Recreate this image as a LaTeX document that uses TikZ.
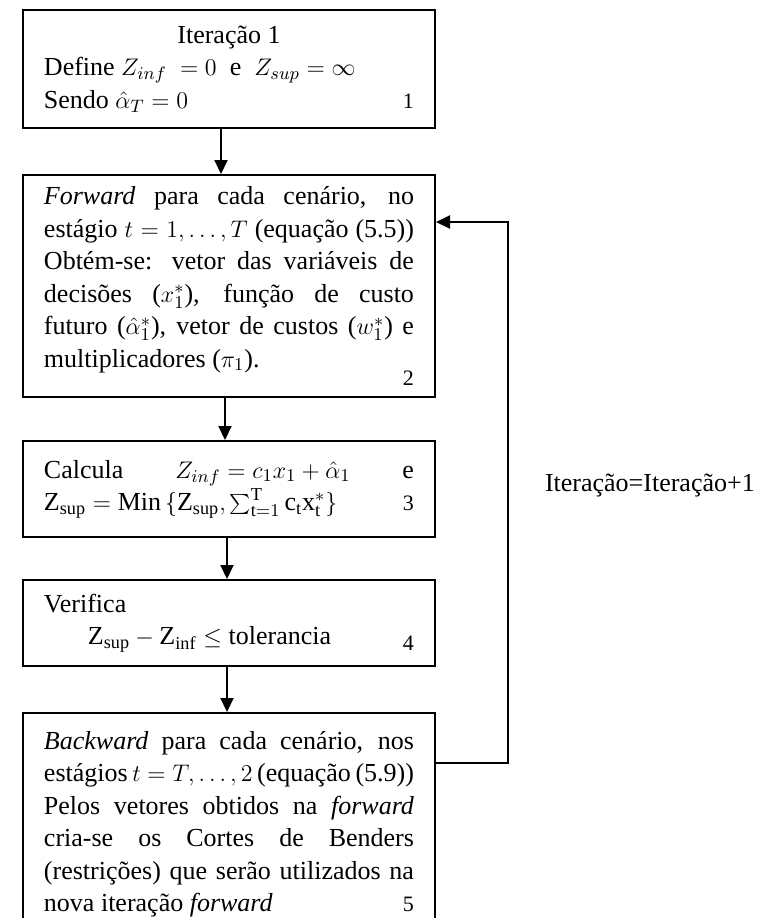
\documentclass[tikz,border=0pt]{standalone}
\usepackage{fontspec}
\setmainfont{Liberation Serif}
\usetikzlibrary{arrows.meta, positioning, calc}
\tolerance=10000
\hbadness=10000
\tikzset{
  stepbox/.style={
    rectangle, draw=black, line width=1pt,
    text width=185pt, align=justify, font=\fontsize{13pt}{16.25pt}\selectfont,
    inner xsep=10.5pt, inner ysep=4pt},
  looplabel/.style={font=\fontsize{13pt}{16.25pt}\selectfont, inner sep=0pt},
  arrow/.style={-{Triangle[length=7pt, width=6.5pt]}, line width=1pt,
                color=black}
}

\begin{document}
\begin{tikzpicture}[node distance=22pt]
  \useasboundingbox (0,0) rectangle (378.5pt,-459pt);

  %% Step 1: start
  \node[stepbox, anchor=north west, minimum height=59pt] (ini) at (11pt,-4.5pt)
    {\hfill Iteração 1\hfill\null\\
     Define $Z_{inf}\;= 0$~ e ~$Z_{sup} = \infty$\\
     Sendo $\hat{\alpha}_T = 0$\hfill{\fontsize{11pt}{13pt}\selectfont 1}\hspace*{2.5pt}};

  %% Step 2: forward pass
  \node[stepbox, below=22.5pt of ini, minimum height=111pt] (fwd)
    {\textit{Forward} para cada cenário, no\linebreak
     estágio $t = 1, \ldots, T$ (equação (5.5))\linebreak
     Obtém-se: vetor das variáveis de\linebreak
     decisões ($x_1^*$), função de custo\linebreak
     futuro ($\hat{\alpha}_1^*$), vetor de custos ($w_1^*$) e\linebreak
     multiplicadores ($\pi_1$).\hfill\raisebox{-9pt}{\fontsize{11pt}{13pt}\selectfont 2}\hspace*{4pt}};

  %% Step 3: bounds
  \node[stepbox, below=21pt of fwd, minimum height=48pt] (bounds)
    {Calcula\hfill$Z_{inf} = c_1x_1 + \hat{\alpha}_1$\hfill e\\
     $\mathrm{Z}_{\mathrm{sup}} = \mathrm{Min}\,\{\mathrm{Z}_{\mathrm{sup}},
      \sum_{\mathrm{t}=1}^{\mathrm{T}}\mathrm{c}_{\mathrm{t}}\mathrm{x}_{\mathrm{t}}^{*}\}$%
     \hfill{\fontsize{11pt}{13pt}\selectfont 3}\hspace*{6.5pt}};

  %% Step 4: stopping test
  \node[stepbox, below=20.5pt of bounds, minimum height=43pt] (check)
    {Verifica\\
     \hspace*{22pt}$\mathrm{Z}_{\mathrm{sup}} - \mathrm{Z}_{\mathrm{inf}} \leq \mathrm{tolerancia}$%
     \hfill\raisebox{-3pt}{\fontsize{11pt}{13pt}\selectfont 4}\hspace*{4pt}};

  %% Step 5: backward pass
  \node[stepbox, below=22.5pt of check, minimum height=111pt] (bwd)
    {\textit{Backward} para cada cenário, nos\linebreak
     estágios $t = T, \ldots, 2$ (equação (5.9))\linebreak
     Pelos vetores obtidos na \textit{forward}\linebreak
     cria-se os Cortes de Benders\linebreak
     (restrições) que serão utilizados na\linebreak
     nova iteração \textit{forward}\hfill{\fontsize{11pt}{13pt}\selectfont 5}\hspace*{4pt}};

  %% Arrows: main flow
  \draw[arrow] ([xshift=-4pt]ini.south) -- ([xshift=-4pt]fwd.north);
  \draw[arrow] ([xshift=-2pt]fwd.south) -- ([xshift=-2pt]bounds.north);
  \draw[arrow] ([xshift=-1pt]bounds.south) -- ([xshift=-1pt]check.north);
  \draw[arrow] ([xshift=-1pt]check.south) -- ([xshift=-1pt]bwd.north);

  %% Arrow: back to the forward pass
  \draw[arrow] ([yshift=-25.5pt]bwd.north east) -- ++(36pt,0)
    |- node[looplabel, pos=0.25, right=18pt, yshift=3.5pt] (lbl) {Iteração=Iteração+1}
    ([yshift=-24pt]fwd.north east);

\end{tikzpicture}
\end{document}
